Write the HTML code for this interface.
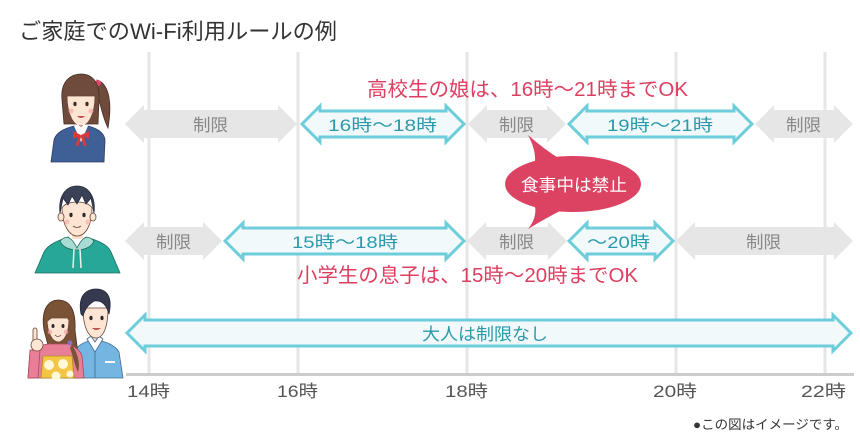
<!DOCTYPE html>
<html><head><meta charset="utf-8"><style>
html,body{margin:0;padding:0;background:#fff;}
svg{display:block;}
text{font-family:"Liberation Sans","Noto Sans CJK JP",sans-serif;}
</style></head><body>
<svg width="860" height="446" viewBox="0 0 860 446" xmlns="http://www.w3.org/2000/svg">
<rect width="860" height="446" fill="#fff"/>
<!-- title -->
<text x="19" y="39" font-size="22" fill="#333" textLength="318" lengthAdjust="spacingAndGlyphs">ご家庭でのWi-Fi利用ルールの例</text>

<!-- grid lines -->
<g stroke="#e6e6e6" stroke-width="3">
<line x1="149" y1="52" x2="149" y2="374"/>
<line x1="298" y1="52" x2="298" y2="374"/>
<line x1="467" y1="52" x2="467" y2="374"/>
<line x1="676" y1="52" x2="676" y2="374"/>
<line x1="825" y1="52" x2="825" y2="374"/>
</g>
<line x1="126" y1="374.5" x2="854" y2="374.5" stroke="#cccccc" stroke-width="3"/>

<!-- row 1 arrows -->
<g fill="#e6e6e6">
<polygon points="125,124 144,105 144,110 278,110 278,105 297,124 278,143 278,138 144,138 144,143"/>
<polygon points="468,124 487,105 487,110 547,110 547,105 566,124 547,143 547,138 487,138 487,143"/>
<polygon points="755,124 774,105 774,110 834,110 834,105 853,124 834,143 834,138 774,138 774,143"/>
<polygon points="125,241 144,222 144,227 203,227 203,222 222,241 203,260 203,255 144,255 144,260"/>
<polygon points="467,241 486,222 486,227 548,227 548,222 567,241 548,260 548,255 486,255 486,260"/>
<polygon points="676,241 695,222 695,227 834,227 834,222 853,241 834,260 834,255 695,255 695,260"/>
</g>
<g fill="#f1f9fb" stroke="#6dcdda" stroke-width="3" stroke-linejoin="miter">
<polygon points="302,124 320,106 320,111 446,111 446,106 464,124 446,142 446,137 320,137 320,142"/>
<polygon points="569,124 587,106 587,111 734,111 734,106 752,124 734,142 734,137 587,137 587,142"/>
<polygon points="225,241 243,223 243,228 446,228 446,223 464,241 446,259 446,254 243,254 243,259"/>
<polygon points="569,241 587,223 587,228 655,228 655,223 673,241 655,259 655,254 587,254 587,259"/>
<polygon points="127,333 145,315 145,320 833,320 833,315 851,333 833,351 833,346 145,346 145,351"/>
</g>

<!-- arrow labels -->
<g font-size="17" fill="#888">
<text x="193" y="131" textLength="35" lengthAdjust="spacingAndGlyphs">制限</text>
<text x="499" y="131" textLength="35" lengthAdjust="spacingAndGlyphs">制限</text>
<text x="786" y="131" textLength="35" lengthAdjust="spacingAndGlyphs">制限</text>
<text x="156" y="248" textLength="35" lengthAdjust="spacingAndGlyphs">制限</text>
<text x="499" y="248" textLength="35" lengthAdjust="spacingAndGlyphs">制限</text>
<text x="746" y="248" textLength="35" lengthAdjust="spacingAndGlyphs">制限</text>
</g>
<g font-size="17" fill="#2a9aab">
<text x="328" y="131" textLength="109" lengthAdjust="spacingAndGlyphs">16時〜18時</text>
<text x="607" y="131" textLength="106" lengthAdjust="spacingAndGlyphs">19時〜21時</text>
<text x="292" y="248" textLength="106" lengthAdjust="spacingAndGlyphs">15時〜18時</text>
<text x="587" y="248" textLength="63" lengthAdjust="spacingAndGlyphs">〜20時</text>
<text x="422" y="340" textLength="126" lengthAdjust="spacingAndGlyphs">大人は制限なし</text>
</g>

<!-- red labels -->
<text x="367" y="96" font-size="20" fill="#dc3f60" textLength="321" lengthAdjust="spacingAndGlyphs">高校生の娘は、16時〜21時までOK</text>
<text x="297" y="282" font-size="20" fill="#dc3f60" textLength="341" lengthAdjust="spacingAndGlyphs">小学生の息子は、15時〜20時までOK</text>

<!-- bubble -->
<g fill="#dc4363">
<path d="M528,135 Q536,150 535,162 L560,159 Q545,150 528,135 Z"/>
<path d="M528,229 Q537,218 535,206 L562,210 Q546,218 528,229 Z"/>
<ellipse cx="573" cy="184" rx="68" ry="28"/>
</g>
<text x="521" y="191" font-size="17" fill="#fff" textLength="106" lengthAdjust="spacingAndGlyphs">食事中は禁止</text>

<!-- time labels -->
<g font-size="17" fill="#555">
<text x="127" y="397" textLength="43" lengthAdjust="spacingAndGlyphs">14時</text>
<text x="277" y="397" textLength="41" lengthAdjust="spacingAndGlyphs">16時</text>
<text x="445" y="397" textLength="43" lengthAdjust="spacingAndGlyphs">18時</text>
<text x="653" y="397" textLength="44" lengthAdjust="spacingAndGlyphs">20時</text>
<text x="801" y="397" textLength="45" lengthAdjust="spacingAndGlyphs">22時</text>
</g>
<text x="693" y="429" font-size="13" fill="#333" textLength="155" lengthAdjust="spacingAndGlyphs">●この図はイメージです。</text>

<!-- girl -->
<g stroke-width="0.8">
<path d="M97,80 C110,84 112,105 108,128 C104,120 100,105 98,95 Z" fill="#6e4b3b" stroke="#4a3028"/>
<circle cx="98" cy="83" r="3" fill="#e0476a"/>
<path d="M62,100 C60,80 72,74 81,74 C92,74 100,82 99,100 L98,124 L64,124 Z" fill="#6e4b3b" stroke="#4a3028"/>
<rect x="75" y="120" width="11" height="10" fill="#fbe0cd"/>
<path d="M67,96 C67,115 74,126 81,126 C88,126 95,115 95,96 Z" fill="#fde5d4" stroke="#6a4535"/>
<path d="M65,98 C64,82 73,77 81,77 C90,77 98,82 97,98 C92,92 90,88 88,86 C85,92 78,93 72,92 C70,95 67,97 65,98 Z" fill="#6e4b3b"/>
<ellipse cx="75" cy="104" rx="1.6" ry="2.2" fill="#3a2a2a"/>
<ellipse cx="87" cy="104" rx="1.6" ry="2.2" fill="#3a2a2a"/>
<circle cx="71" cy="111" r="2.5" fill="#f4a5a5" opacity="0.7"/>
<circle cx="91" cy="111" r="2.5" fill="#f4a5a5" opacity="0.7"/>
<path d="M77,116 Q81,120 85,116 Z" fill="#c0504d"/>
<path d="M51,162 L54,140 C56,132 66,128 74,126 L81,140 L88,126 C96,128 104,132 105,140 L104,162 Z" fill="#3f5f97" stroke="#2d3f66"/>
<path d="M74,126 L81,142 L88,126 L84,124 L81,128 L78,124 Z" fill="#fff"/>
<path d="M73,131 L81,135 L89,131 L89,139 L81,135 L73,139 Z" fill="#d93a3a"/>
<path d="M80,135 L77,146 M82,135 L85,146" stroke="#d93a3a" stroke-width="3"/>
</g>

<!-- boy -->
<g stroke-width="0.8">
<rect x="72" y="230" width="11" height="9" fill="#fbe0cd"/>
<path d="M62,208 C62,226 70,236 77,236 C85,236 92,226 92,208 C88,200 66,200 62,208 Z" fill="#fde5d4" stroke="#6a4535"/>
<ellipse cx="61" cy="217" rx="3" ry="4" fill="#fde5d4" stroke="#6a4535"/>
<ellipse cx="93" cy="217" rx="3" ry="4" fill="#fde5d4" stroke="#6a4535"/>
<path d="M60,213 L63,198 L68,205 L72,196 L77,204 L82,195 L86,204 L91,198 L94,213 C96,196 88,186 77,186 C66,186 58,196 60,213 Z" fill="#3b4258" stroke="#252a3a"/>
<ellipse cx="71" cy="215" rx="1.6" ry="2.2" fill="#2a2a2a"/>
<ellipse cx="84" cy="215" rx="1.6" ry="2.2" fill="#2a2a2a"/>
<circle cx="67" cy="222" r="2.5" fill="#f4a5a5" opacity="0.6"/>
<circle cx="88" cy="222" r="2.5" fill="#f4a5a5" opacity="0.6"/>
<path d="M73,226 Q77,229 81,226" fill="none" stroke="#6a4535"/>
<path d="M35,273 L44,252 C48,244 60,240 68,237 L77,248 L86,237 C96,240 108,244 111,252 L120,273 Z" fill="#27a896" stroke="#1d6d62"/>
<path d="M60,241 C65,236 70,234 77,248 C84,234 89,236 94,241 C92,246 86,250 77,250 C68,250 62,246 60,241 Z" fill="#a8dcd3" stroke="#1d6d62"/>
<path d="M74,249 L73,268 M80,249 L81,268" stroke="#eee" stroke-width="1.5"/>
</g>

<!-- couple: man -->
<g stroke-width="0.8">
<path d="M72,378 L74,352 C78,344 86,341 95,340 C105,341 115,345 119,352 L123,378 Z" fill="#75b5e2" stroke="#3d6c94"/>
<rect x="90" y="330" width="11" height="11" fill="#fbe0cd"/>
<path d="M87,339 L95,352 L103,339 L99,336 L95,342 L91,336 Z" fill="#fff" stroke="#3d6c94"/>
<line x1="95" y1="352" x2="95" y2="378" stroke="#3d6c94"/>
<line x1="105" y1="362" x2="115" y2="362" stroke="#fff" stroke-width="2"/>
<path d="M83,308 C83,328 89,338 96,338 C103,338 108,328 108,308 Z" fill="#fde5d4" stroke="#6a4535"/>
<path d="M81,314 C77,292 90,289 96,289 C106,289 113,296 109,314 C106,303 100,300 94,301 C90,304 86,306 83,316 Z" fill="#353a4e" stroke="#22263a"/>
<ellipse cx="91" cy="318" rx="1.6" ry="2.2" fill="#2a2a2a"/>
<ellipse cx="102" cy="318" rx="1.6" ry="2.2" fill="#2a2a2a"/>
<path d="M92,328 Q96,332 101,328 Z" fill="#c0504d"/>
</g>
<!-- couple: woman -->
<g stroke-width="0.8">
<path d="M44,330 C40,305 52,300 58,300 C70,300 76,310 75,330 L80,370 C77,376 72,374 70,368 L68,345 L48,345 Z" fill="#7a5336" stroke="#4a3028"/>
<path d="M28,378 L30,352 C34,347 42,345 48,344 L68,344 C74,346 80,350 82,356 L84,378 Z" fill="#e97f97" stroke="#a44a5e"/>
<path d="M43,356 L72,356 L74,378 L41,378 Z" fill="#f4c646" stroke="#b08a20"/>
<circle cx="49" cy="365" r="5" fill="#fff8d8"/>
<circle cx="63" cy="364" r="5" fill="#fff8d8"/>
<circle cx="56" cy="376" r="4.5" fill="#fff8d8"/>
<circle cx="70" cy="374" r="3.5" fill="#fff8d8"/>
<path d="M72,345 C79,355 80,365 78,372 C75,366 73,356 70,348 Z" fill="#7a5336"/>
<circle cx="70" cy="343" r="2.5" fill="#8a6fc0"/>
<path d="M47,318 C47,334 53,342 58,342 C64,342 69,334 69,318 Z" fill="#fde5d4" stroke="#6a4535"/>
<path d="M45,324 C44,306 52,302 58,302 C66,302 72,308 71,324 C66,316 62,312 60,310 C56,316 50,319 45,324 Z" fill="#7a5336"/>
<ellipse cx="53" cy="326" rx="1.5" ry="2" fill="#2a2a2a"/>
<ellipse cx="63" cy="326" rx="1.5" ry="2" fill="#2a2a2a"/>
<circle cx="50" cy="332" r="2.3" fill="#f4a5a5" opacity="0.7"/>
<circle cx="66" cy="332" r="2.3" fill="#f4a5a5" opacity="0.7"/>
<path d="M55,335 Q58,338 61,335" fill="none" stroke="#6a4535"/>
<path d="M28,378 L30,350 L40,350 L38,378 Z" fill="#e97f97" stroke="#a44a5e"/>
<rect x="33" y="328" width="4" height="14" rx="2" fill="#fde5d4" stroke="#6a4535"/>
<ellipse cx="37" cy="345" rx="6" ry="6" fill="#fde5d4" stroke="#6a4535"/>
</g>
</svg>
</body></html>
